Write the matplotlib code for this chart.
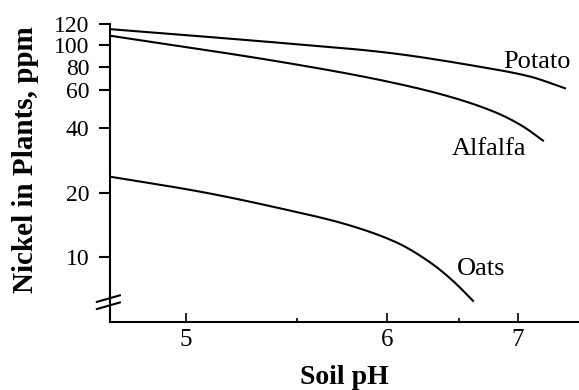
import numpy as np
import matplotlib
matplotlib.use("Agg")
import matplotlib.pyplot as plt
from matplotlib.ticker import NullLocator

plt.rcParams['font.family'] = ['Liberation Serif', 'DejaVu Serif']

# valores (pH del suelo, Ni en ppm)
potato_ph = [4.711, 5.415, 5.957, 6.664, 7.118, 7.498]
potato_ni = [114.9, 102.0, 93.4, 80.2, 71.0, 61.3]

alfalfa_ph = [4.711, 5.415, 5.957, 6.406, 6.808, 7.049, 7.252]
alfalfa_ni = [108.5, 84.4, 68.0, 56.3, 46.9, 40.6, 34.9]

oats_ph = [4.711, 5.057, 5.415, 5.764, 6.063, 6.284, 6.451, 6.607]
oats_ni = [23.7, 20.2, 16.9, 14.2, 11.7, 9.48, 7.77, 6.28]

yticks = [10, 20, 40, 60, 80, 100, 120]
xticks = [5, 6, 7]
labels = ['Potato', 'Alfalfa', 'Oats']
label_pos = [(7.19, 84.2), (6.74, 32.0), (6.67, 8.8)]

# el eje de pH del original no es lineal
k = 0.428
fx_fwd = lambda x: -np.exp(-k * np.asarray(x, dtype=float))
fx_inv = lambda y: -np.log(-np.asarray(y, dtype=float)) / k

# eje y casi logaritmico, dibujado a mano en el original
ref_v = np.log([1.0, 5, 10, 20, 40, 60, 80, 100, 120, 1000])
ref_p = np.array([216.0, 65, 0, -65, -130, -168, -191, -213, -234, -433])
fy_fwd = lambda v: np.interp(np.log(np.clip(np.asarray(v, dtype=float), 1e-9, None)), ref_v, -ref_p)
fy_inv = lambda p: np.exp(np.interp(np.asarray(p, dtype=float), -ref_p, ref_v))


def pchip(x, y, n=200):
    # interpolacion cubica monotona (Fritsch-Carlson)
    x = np.asarray(x, float); y = np.asarray(y, float)
    h = np.diff(x); d = np.diff(y) / h
    m = np.zeros_like(y)
    m[0], m[-1] = d[0], d[-1]
    for i in range(1, len(x) - 1):
        if d[i - 1] * d[i] > 0:
            w1 = 2 * h[i] + h[i - 1]; w2 = h[i] + 2 * h[i - 1]
            m[i] = (w1 + w2) / (w1 / d[i - 1] + w2 / d[i])
    t = np.linspace(x[0], x[-1], n)
    idx = np.clip(np.searchsorted(x, t) - 1, 0, len(x) - 2)
    hh = h[idx]; s = (t - x[idx]) / hh
    h00 = 2 * s**3 - 3 * s**2 + 1; h10 = s**3 - 2 * s**2 + s
    h01 = -2 * s**3 + 3 * s**2; h11 = s**3 - s**2
    yy = h00 * y[idx] + h10 * hh * m[idx] + h01 * y[idx + 1] + h11 * hh * m[idx + 1]
    return t, yy


fig = plt.figure(figsize=(5.79, 3.90), dpi=100)
ax = fig.add_axes([0.19, 0.174, 0.81, 0.764])

for xs, ys in [(potato_ph, potato_ni), (alfalfa_ph, alfalfa_ni), (oats_ph, oats_ni)]:
    t, yy = pchip(fx_fwd(xs), fy_fwd(ys))
    ax.plot(fx_inv(t), fy_inv(yy), color='black', lw=1.5)

for name, (px, py) in zip(labels, label_pos):
    ax.text(px, py, name, fontsize=19, ha='center', va='center')

ax.set_xscale('function', functions=(fx_fwd, fx_inv))
ax.set_yscale('function', functions=(fy_fwd, fy_inv))
ax.set_xlim(4.71, 7.67)
ax.set_ylim(5.0, 120)

ax.set_yticks(yticks)
ax.set_yticklabels([str(v) for v in yticks])
ax.yaxis.set_minor_locator(NullLocator())
ax.set_xticks(xticks)
ax.set_xticklabels([str(v) for v in xticks])
ax.set_xticks([5.5, 6.5], minor=True)

ax.tick_params(axis='y', direction='out', length=8, width=1.5, pad=7, labelsize=17)
ax.tick_params(axis='x', which='major', direction='in', length=6.5, width=1.2, pad=5, labelsize=18)
ax.tick_params(axis='x', which='minor', direction='in', length=3, width=1.2)

for s in ['top', 'right']:
    ax.spines[s].set_visible(False)
for s in ['left', 'bottom']:
    ax.spines[s].set_linewidth(1.5)

# marcas de corte del eje y
for y0 in (0.044, 0.068):
    ax.plot([-0.028, 0.021], [y0, y0 + 0.022], transform=ax.transAxes,
            color='black', lw=1.5, clip_on=False)

ax.set_xlabel('Soil pH', fontsize=20, fontweight='bold', labelpad=10)
ax.set_ylabel('Nickel in Plants, ppm', fontsize=21, fontweight='bold', labelpad=11, y=0.545)

fig.savefig('out.png', dpi=100)
